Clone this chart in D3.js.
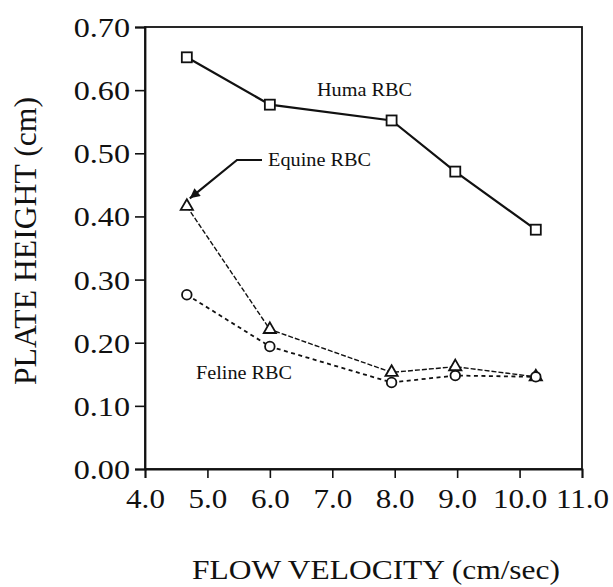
<!DOCTYPE html>
<html>
<head>
<meta charset="utf-8">
<script src="https://cdn.jsdelivr.net/npm/d3@7"></script>
<style>
  html, body { margin: 0; padding: 0; background: #fff; }
  svg { display: block; font-family: "Liberation Serif", "Times New Roman", serif; }
</style>
</head>
<body>
<div id="chart"></div>
<script>
// values
const velocity = [4.67, 6.0, 7.95, 8.97, 10.26];
const human = [0.652, 0.577, 0.552, 0.471, 0.379];
const equine = [0.416, 0.221, 0.153, 0.162, 0.146];
const feline = [0.276, 0.194, 0.137, 0.148, 0.146];
const xTicks = [4, 5, 6, 7, 8, 9, 10, 11];
const yTicks = [0, 0.1, 0.2, 0.3, 0.4, 0.5, 0.6, 0.7];

const W = 613, H = 587;
const M = { top: 27, right: 31, bottom: 118, left: 145 };
const STRETCH = 1.15;

const svg = d3.select("#chart").append("svg").attr("width", W).attr("height", H);

const x = d3.scaleLinear().domain([4, 11]).range([M.left, W - M.right]);
const y = d3.scaleLinear().domain([0, 0.7]).range([H - M.bottom, M.top]);

// frame
svg.append("rect")
  .attr("x", x(4)).attr("y", y(0.7))
  .attr("width", x(11) - x(4)).attr("height", y(0) - y(0.7))
  .attr("fill", "none").attr("stroke", "#111").attr("stroke-width", 1.8);

// y axis
const yAx = svg.append("g").attr("transform", `translate(${x(4)},0)`)
  .call(d3.axisLeft(y).tickValues(yTicks).tickSize(10).tickFormat(d3.format(".2f")));
yAx.select(".domain").attr("stroke-width", 1.8).attr("stroke", "#111");
yAx.selectAll(".tick line").attr("stroke-width", 1.6).attr("stroke", "#111");
yAx.selectAll(".tick text").each(function () {
  d3.select(this).attr("x", null).attr("dy", null)
    .attr("transform", `translate(-15,9.5) scale(${STRETCH},1)`)
    .attr("text-anchor", "end")
    .style("font-size", "28px").style("font-family", "Liberation Serif").attr("fill", "#111");
});

// x axis
const xAx = svg.append("g").attr("transform", `translate(0,${y(0)})`)
  .call(d3.axisBottom(x).tickValues(xTicks).tickSize(9).tickFormat(d3.format(".1f")));
xAx.select(".domain").attr("stroke-width", 1.8).attr("stroke", "#111");
xAx.selectAll(".tick line").attr("stroke-width", 1.6).attr("stroke", "#111");
xAx.selectAll(".tick text").each(function () {
  d3.select(this).attr("y", null).attr("dy", null)
    .attr("transform", `translate(0,39) scale(${STRETCH},1)`)
    .attr("text-anchor", "middle")
    .style("font-size", "27px").style("font-family", "Liberation Serif").attr("fill", "#111");
});
svg.selectAll(".domain").attr("fill", "none");

// axis titles
svg.append("text")
  .attr("transform", "translate(36,241) rotate(-90)")
  .attr("text-anchor", "middle")
  .attr("textLength", 288).attr("lengthAdjust", "spacingAndGlyphs")
  .style("font-size", "31px").attr("fill", "#111")
  .text("PLATE HEIGHT (cm)");

svg.append("text")
  .attr("x", 192).attr("y", 579)
  .attr("textLength", 368).attr("lengthAdjust", "spacingAndGlyphs")
  .style("font-size", "27px").attr("fill", "#111")
  .text("FLOW VELOCITY  (cm/sec)");

// lines
const line = d3.line().x((d, i) => x(velocity[i])).y(d => y(d));

svg.append("path").datum(human).attr("d", line)
  .attr("fill", "none").attr("stroke", "#111").attr("stroke-width", 2.2);
svg.append("path").datum(equine).attr("d", line)
  .attr("fill", "none").attr("stroke", "#111").attr("stroke-width", 1.4)
  .attr("stroke-dasharray", "5,2");
svg.append("path").datum(feline).attr("d", line)
  .attr("fill", "none").attr("stroke", "#111").attr("stroke-width", 1.8)
  .attr("stroke-dasharray", "4,3.5");

// markers
const sq = 10;
svg.append("g").selectAll("rect").data(human).join("rect")
  .attr("x", (d, i) => x(velocity[i]) - sq / 2).attr("y", d => y(d) - sq / 2)
  .attr("width", sq).attr("height", sq)
  .attr("fill", "#fff").attr("stroke", "#111").attr("stroke-width", 1.8);

const tri = d3.symbol().type(d3.symbolTriangle).size(65);
svg.append("g").selectAll("path").data(equine).join("path")
  .attr("d", tri)
  .attr("transform", (d, i) => `translate(${x(velocity[i])},${y(d)})`)
  .attr("fill", "#fff").attr("stroke", "#111").attr("stroke-width", 1.8);

svg.append("g").selectAll("circle").data(feline).join("circle")
  .attr("cx", (d, i) => x(velocity[i])).attr("cy", d => y(d)).attr("r", 4.8)
  .attr("fill", "#fff").attr("stroke", "#111").attr("stroke-width", 1.8);

// series labels
function label(txt, px, py, len) {
  svg.append("text").attr("x", px).attr("y", py)
    .attr("textLength", len).attr("lengthAdjust", "spacingAndGlyphs")
    .style("font-size", "19px").attr("fill", "#111").text(txt);
}
label("Huma RBC", 317, 96, 95);
label("Equine RBC", 268, 166, 103);
label("Feline RBC", 196, 379, 96);

// arrow to the equine series
svg.append("defs").append("marker")
  .attr("id", "ah").attr("viewBox", "0 0 10 10")
  .attr("refX", 10).attr("refY", 5)
  .attr("markerWidth", 14).attr("markerHeight", 10)
  .attr("markerUnits", "userSpaceOnUse").attr("orient", "auto")
  .append("path").attr("d", "M0,0 L10,5 L0,10 Z").attr("fill", "#111");

svg.append("path")
  .attr("d", `M262,160 L237,160 L${x(velocity[0]) + 3},${y(equine[0]) - 8}`)
  .attr("fill", "none").attr("stroke", "#111").attr("stroke-width", 2.2)
  .attr("marker-end", "url(#ah)");
</script>
</body>
</html>
